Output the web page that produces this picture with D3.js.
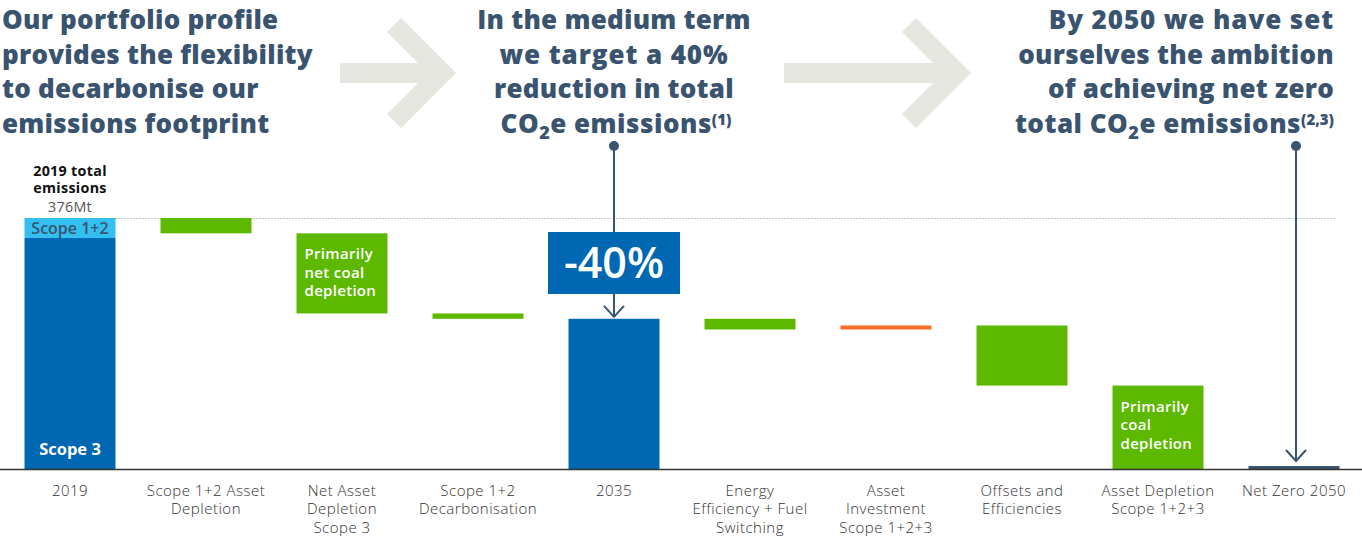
<!DOCTYPE html>
<html>
<head>
<meta charset="utf-8">
<script src="https://cdn.jsdelivr.net/npm/d3@7"></script>
<style>
  body { margin: 0; background: #fff; }
  svg { display: block; font-family: "Open Sans", sans-serif; }
</style>
</head>
<body>
<svg id="chart" width="1362" height="537"></svg>
<script>
// waterfall data (Mt CO2e)
const categories = ["2019", "Scope 1+2 Asset Depletion", "Net Asset Depletion Scope 3",
  "Scope 1+2 Decarbonisation", "2035", "Energy Efficiency + Fuel Switching",
  "Asset Investment Scope 1+2+3", "Offsets and Efficiencies", "Asset Depletion Scope 1+2+3",
  "Net Zero 2050"];
const labelLines = [["2019"], ["Scope 1+2 Asset", "Depletion"], ["Net Asset", "Depletion", "Scope 3"],
  ["Scope 1+2", "Decarbonisation"], ["2035"], ["Energy", "Efficiency + Fuel", "Switching"],
  ["Asset", "Investment", "Scope 1+2+3"], ["Offsets and", "Efficiencies"],
  ["Asset Depletion", "Scope 1+2+3"], ["Net Zero 2050"]];
const kinds = ["total", "delta", "delta", "delta", "total", "delta", "delta", "delta", "delta", "total"];
const values = [376, -23, -120, -8, 225, -16, 6, -90, -125, 0];
const scope12_2019 = 30;
const scope3_2019 = 346;

const leftHead = ["Our portfolio profile", "provides the flexibility", "to decarbonise our", "emissions footprint"];
const midHead = ["In the medium term", "we target a 40%", "reduction in total"];
const rightHead = ["By 2050 we have set", "ourselves the ambition", "of achieving net zero"];

const navy = "#3a5470", blue = "#0067b2", lightBlue = "#33bff0",
      green = "#5cb900", orange = "#fb6c25", grey = "#e6e6e1";

const svg = d3.select("#chart");

let x = d3.scaleBand().domain(categories).range([2, 1362])
    .paddingInner(0.331).paddingOuter(0.1655);
let y = d3.scaleLinear().domain([0, 376]).range([469, 218]);
let bw = x.bandwidth();

// build the waterfall
let running = 0;
let steps = categories.map((c, i) => {
    let s;
    if (kinds[i] == "total") { s = {cat: c, lo: 0, hi: values[i], kind: "total"}; running = values[i]; }
    else {
        let end = running + values[i];
        s = {cat: c, lo: Math.min(running, end), hi: Math.max(running, end), kind: values[i] < 0 ? "down" : "up"};
        running = end;
    }
    return s;
});

// gray arrows at top
function bigArrow(x0, tip) {
    svg.append("path")
        .attr("d", `M${x0},73 L${tip - 14},73 M${tip - 62},25 L${tip - 14},73 L${tip - 62},121`)
        .attr("fill", "none").attr("stroke", grey).attr("stroke-width", 20)
        .attr("stroke-linejoin", "miter").attr("stroke-miterlimit", 4);
}
bigArrow(340, 456);
bigArrow(784, 971);

// headings
let hsize = 26;
function heading(lines, xp, anchor) {
    let t = svg.append("g");
    lines.forEach((l, i) => {
        let ls = /\d/.test(l) ? 0.9 : 0.25;   // digits are wider in the original face
        t.append("text").attr("x", xp).attr("y", 29 + i * 34.5)
            .attr("text-anchor", anchor).attr("font-size", hsize).attr("font-weight", 800)
            .attr("letter-spacing", ls).attr("fill", navy).text(l);
    });
    return t;
}
heading(leftHead, 2, "start");
heading(midHead, x("2035") + bw / 2, "middle");
heading(rightHead, 1334, "end");

function co2Line(xp, anchor, pre, note) {
    let t = svg.append("text").attr("x", xp).attr("y", 29 + 3 * 34.5)
        .attr("text-anchor", anchor).attr("font-size", hsize).attr("font-weight", 800)
        .attr("letter-spacing", 0.5).attr("fill", navy);
    t.append("tspan").text(pre + "CO");
    t.append("tspan").attr("font-size", 18).attr("dy", 6).text("2");
    t.append("tspan").attr("dy", -6).text("e emissions");
    t.append("tspan").attr("font-size", 15).attr("dy", -8).attr("letter-spacing", 0).text(note);
}
co2Line(x("2035") + bw / 2 + 2, "middle", "", "(1)");
co2Line(1334, "end", "total ", "(2,3)");

// dotted 2019 reference line
svg.append("line")
    .attr("x1", x("2019") + bw).attr("x2", x("Net Zero 2050") + bw - 3)
    .attr("y1", y(376) + 0.5).attr("y2", y(376) + 0.5)
    .attr("stroke", "#7b8ea3").attr("stroke-width", 1).attr("stroke-dasharray", "1,2");

// bars
let bars = svg.append("g");
steps.forEach(s => {
    if (s.cat == "2019") {
        bars.append("rect").attr("x", x(s.cat)).attr("width", bw)
            .attr("y", y(scope3_2019)).attr("height", y(0) - y(scope3_2019)).attr("fill", blue);
        bars.append("rect").attr("x", x(s.cat)).attr("width", bw)
            .attr("y", y(scope3_2019 + scope12_2019)).attr("height", y(scope3_2019) - y(scope3_2019 + scope12_2019))
            .attr("fill", lightBlue);
        return;
    }
    let col = s.kind == "down" ? green : s.kind == "up" ? orange : blue;
    let h = y(s.lo) - y(s.hi);
    if (s.cat == "Net Zero 2050") { col = navy; h = 3; }
    bars.append("rect").attr("x", x(s.cat)).attr("width", bw)
        .attr("y", y(s.lo) - h).attr("height", h).attr("fill", col);
});

// axis
let xAxis = d3.axisBottom(x).tickSize(0).tickPadding(0);
let ax = svg.append("g").attr("transform", "translate(0," + y(0) + ")").call(xAxis);
ax.select(".domain").remove();
ax.selectAll("text").each(function (d) {
    let t = d3.select(this).text(null).attr("y", 0).attr("dy", null)
        .attr("font-family", "Open Sans").attr("font-size", 15).attr("font-weight", 300)
        .attr("letter-spacing", 0.5).attr("fill", "#333");
    labelLines[categories.indexOf(d)].forEach((l, i) => {
        t.append("tspan").attr("x", 0).attr("y", 27 + i * 18.3).text(l);
    });
});
svg.append("line").attr("x1", 0).attr("x2", 1362).attr("y1", y(0) + 0.5).attr("y2", y(0) + 0.5)
    .attr("stroke", "#333").attr("stroke-width", 1.5);

// 2019 labels, one text block
let c19 = x("2019") + bw / 2;
let lab19 = svg.append("text").attr("text-anchor", "middle").attr("font-size", 14.3)
    .attr("letter-spacing", 0.3);
lab19.append("tspan").attr("x", c19).attr("y", 175.5).attr("font-weight", 700).attr("fill", "#111").text("2019 total");
lab19.append("tspan").attr("x", c19).attr("y", 193).attr("font-weight", 700).attr("fill", "#111").text("emissions");
lab19.append("tspan").attr("x", c19).attr("y", 212).attr("fill", "#555").text(scope12_2019 + scope3_2019 + "Mt");
svg.append("text").attr("x", c19).attr("y", y(376) + 16).attr("text-anchor", "middle")
    .attr("font-size", 16).attr("font-weight", 600).attr("fill", navy).text("Scope 1+2");
svg.append("text").attr("x", c19).attr("y", y(0) - 14).attr("text-anchor", "middle")
    .attr("font-size", 16.5).attr("font-weight", 700).attr("fill", "#fff").text("Scope 3");

// notes inside green bars
function barNote(cat, lines) {
    let s = steps[categories.indexOf(cat)];
    let t = svg.append("text").attr("font-size", 15).attr("font-weight", 600)
        .attr("letter-spacing", 0.3).attr("fill", "#fff");
    lines.forEach((l, i) => {
        t.append("tspan").attr("x", x(cat) + 8).attr("y", y(s.hi) + 26 + i * 18.5).text(l);
    });
}
barNote("Net Asset Depletion Scope 3", ["Primarily", "net coal", "depletion"]);
barNote("Asset Depletion Scope 1+2+3", ["Primarily", "coal", "depletion"]);

// pins
function pin(cx, y0, y1) {
    svg.append("circle").attr("cx", cx).attr("cy", 146).attr("r", 5).attr("fill", navy);
    svg.append("line").attr("x1", cx).attr("x2", cx).attr("y1", 146).attr("y2", y1)
        .attr("stroke", navy).attr("stroke-width", 2);
    svg.append("path").attr("d", `M${cx - 10},${y1 - 11} L${cx},${y1} L${cx + 10},${y1 - 11}`)
        .attr("fill", "none").attr("stroke", navy).attr("stroke-width", 2);
}
let c35 = x("2035") + bw / 2;
pin(c35, 146, y(225) - 2);
pin(x("Net Zero 2050") + bw / 2 + 2, 146, y(0) - 8);

// -40% box
svg.append("rect").attr("x", c35 - 66).attr("y", 232).attr("width", 132).attr("height", 62).attr("fill", blue);
svg.append("text").attr("x", c35).attr("y", 278).attr("text-anchor", "middle")
    .attr("font-size", 43).attr("font-weight", 600).attr("fill", "#fff").text("-40%");
</script>
</body>
</html>
